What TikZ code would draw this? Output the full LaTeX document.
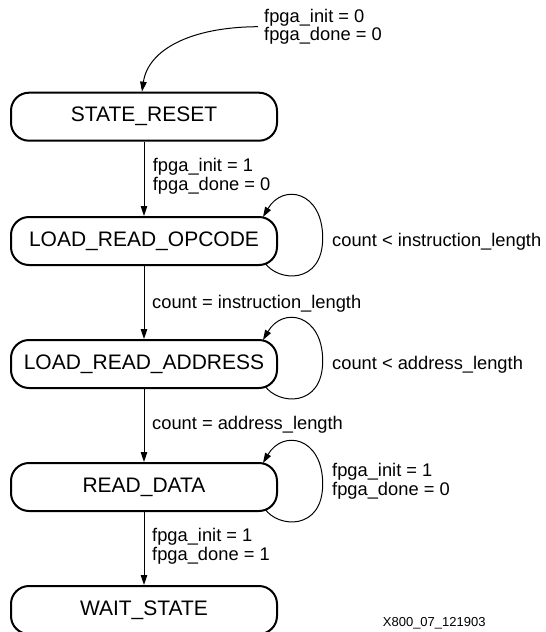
\documentclass[tikz,border=0pt]{standalone}
\usepackage{fontspec}
\setmainfont{Liberation Sans}
\usetikzlibrary{arrows.meta}
\tikzset{
  state/.style={draw=black, line width=2pt, rounded corners=18pt, minimum width=266pt, minimum height=48pt, inner sep=0pt, font=\fontsize{21}{25}\selectfont},
  arr/.style={draw=black, line width=1pt, -{Triangle[length=10pt,width=6.5pt]}},
  lbl/.style={anchor=base west, inner sep=0pt, align=left, font=\fontsize{18.3}{18.3}\selectfont},
  foot/.style={anchor=base west, inner sep=0pt, font=\fontsize{13}{15}\selectfont}
}
\newcommand{\myloop}[1]{%
  \draw[arr] ([shift={(121,22)}]#1.center) .. controls ([shift={(134,41)}]#1.center) and ([shift={(178.7,44)}]#1.center) .. ([shift={(178.7,-3)}]#1.center)
    .. controls ([shift={(178.7,-50)}]#1.center) and ([shift={(139,-58)}]#1.center) .. ([shift={(119,-24)}]#1.center);}
\begin{document}
\begin{tikzpicture}[x=1pt,y=-1pt]
\useasboundingbox (0,0) rectangle (546,632);
\node[state] (rs) at (144,116.7) {STATE\_RESET};
\node[state] (op) at (144,241) {LOAD\_READ\_OPCODE};
\node[state] (ad) at (144,364) {LOAD\_READ\_ADDRESS};
\node[state] (rd) at (144,487) {READ\_DATA};
\node[state] (ws) at (144,610) {WAIT\_STATE};

\coordinate (init) at (258,26.7);
\draw[arr] (init) .. controls (190,27) and (148,50) .. ([xshift=-2pt]rs.north);
\node[lbl] (l0) at (264,40.8) {fpga\_init = 0\\fpga\_done = 0};

\draw[arr] (rs.south) -- (op.north);
\node[lbl] (l1) at (152.7,190) {fpga\_init = 1\\fpga\_done = 0};

\myloop{op}
\node[lbl] (l2) at (332,246) {count < instruction\_length};

\draw[arr] (op.south) -- (ad.north);
\node[lbl] (l3) at (152,308.5) {count = instruction\_length};

\myloop{ad}
\node[lbl] (l4) at (332,369) {count < address\_length};

\draw[arr] (ad.south) -- (rd.north);
\node[lbl] (l5) at (152,429) {count = address\_length};

\myloop{rd}
\node[lbl] (l6) at (332,495) {fpga\_init = 1\\fpga\_done = 0};

\draw[arr] (rd.south) -- (ws.north);
\node[lbl] (l7) at (152,560) {fpga\_init = 1\\fpga\_done = 1};

\node[foot] (ft) at (382.7,626.7) {X800\_07\_121903};
\end{tikzpicture}
\end{document}
